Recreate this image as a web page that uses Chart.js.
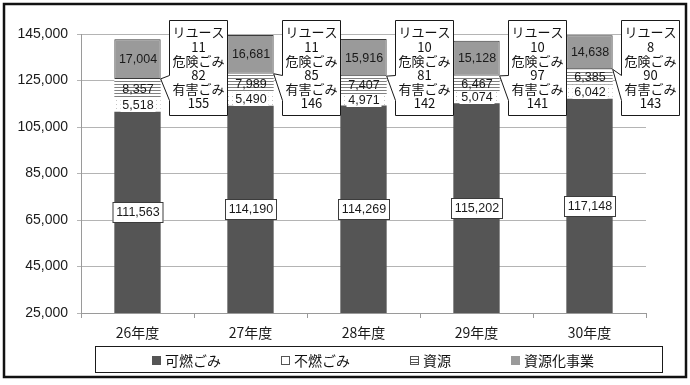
<!DOCTYPE html>
<html lang="ja">
<head>
<meta charset="utf-8">
<script src="https://cdn.jsdelivr.net/npm/chart.js@4.4.1/dist/chart.umd.min.js"></script>
<style>
  html, body { margin: 0; padding: 0; background: #fff; }
  #wrap { width: 690px; height: 385px; }
</style>
</head>
<body>
<div id="wrap"><canvas id="wasteChart" width="690" height="385"></canvas></div>
<script>
// 年度ごとのごみ量
const years = ['26年度', '27年度', '28年度', '29年度', '30年度'];
const kanen = [111563, 114190, 114269, 115202, 117148];   // 可燃ごみ
const funen = [5518, 5490, 4971, 5074, 6042];             // 不燃ごみ
const shigen = [8357, 7989, 7407, 6467, 6385];            // 資源
const reuse = [11, 11, 10, 10, 8];                        // リユース
const kiken = [82, 85, 81, 97, 90];                       // 危険ごみ
const yugai = [155, 146, 142, 141, 143];                  // 有害ごみ
const shigenka = [17004, 16681, 15916, 15128, 14638];     // 資源化事業
const yTicks = [25000, 45000, 65000, 85000, 105000, 125000, 145000];

const canvas = document.getElementById('wasteChart');
const ctx = canvas.getContext('2d');

function tile(w, h, draw) {
    const c = document.createElement('canvas');
    c.width = w; c.height = h;
    const g = c.getContext('2d');
    g.fillStyle = '#fff';
    g.fillRect(0, 0, w, h);
    draw(g);
    return ctx.createPattern(c, 'repeat');
}
// 資源: 横線ハッチ, 不燃ごみ: 点
const hatch = tile(4, 3, g => { g.fillStyle = '#808080'; g.fillRect(0, 0, 4, 1); });
const dots = tile(4, 4, g => { g.fillStyle = '#c4c4c4'; g.fillRect(0, 0, 1, 1); });

const fmt = v => v.toLocaleString('en-US');
const jpFont = '"Noto Sans CJK JP", "Noto Sans", sans-serif';

const legendItems = [
    { text: '可燃ごみ', mark: 'dark' },
    { text: '不燃ごみ', mark: 'white' },
    { text: '資源', mark: 'hatch' },
    { text: '資源化事業', mark: 'gray' }
];

const decorations = {
    id: 'decorations',
    beforeDraw(chart) {
        const c = chart.ctx;
        c.save();
        c.fillStyle = '#fff';
        c.fillRect(0, 0, chart.width, chart.height);
        c.restore();
    },
    afterDatasetsDraw(chart) {
        const c = chart.ctx;
        const area = chart.chartArea;
        c.save();
        c.font = '12.5px "Liberation Sans", Arial, sans-serif';
        c.textAlign = 'center';
        c.textBaseline = 'middle';
        chart.data.datasets.forEach((ds, di) => {
            if (!ds.tag) return;
            chart.getDatasetMeta(di).data.forEach((bar, i) => {
                const top = Math.max(bar.y, area.top);
                const bottom = Math.min(bar.base, area.bottom);
                const cy = Math.round((top + bottom) / 2);
                const txt = fmt(ds.data[i]);
                const w = Math.round(c.measureText(txt).width);
                const x = Math.round(bar.x);
                if (ds.tag === 'box') {
                    c.fillStyle = '#fff';
                    c.fillRect(x - w / 2 - 4, cy - 10, w + 8, 21);
                    c.strokeStyle = '#3c3c3c';
                    c.lineWidth = 1;
                    c.strokeRect(x - w / 2 - 3.5, cy - 9.5, w + 7, 20);
                } else if (ds.tag === 'white') {
                    c.fillStyle = '#fff';
                    c.fillRect(x - w / 2 - 2, cy - 6, w + 4, 13);
                }
                c.fillStyle = '#1a1a1a';
                c.fillText(txt, x, cy + 1);
            });
        });
        c.restore();
    },
    afterDraw(chart) {
        const c = chart.ctx;
        const area = chart.chartArea;
        c.save();

        // 吹き出し (リユース・危険ごみ・有害ごみ)
        const tipMeta = chart.getDatasetMeta(5);
        tipMeta.data.forEach((bar, i) => {
            const tipX = bar.x + bar.width / 2;
            const tipY = bar.y;
            const left = Math.round(tipX + 8) + 0.5;
            const top = 20.5, w = 58, h = 95;
            c.beginPath();
            c.moveTo(left, top);
            c.lineTo(left + w, top);
            c.lineTo(left + w, top + h);
            c.lineTo(left, top + h);
            c.lineTo(left, top + 80);
            c.lineTo(tipX, tipY);
            c.lineTo(left, top + 55);
            c.closePath();
            c.fillStyle = '#fff';
            c.fill();
            c.strokeStyle = '#1a1a1a';
            c.lineWidth = 1;
            c.stroke();
            const lines = ['リユース', String(reuse[i]), '危険ごみ', String(kiken[i]), '有害ごみ', String(yugai[i])];
            c.fillStyle = '#111';
            c.textAlign = 'center';
            c.textBaseline = 'middle';
            c.font = '13px ' + jpFont;
            lines.forEach((t, k) => c.fillText(t, left + w / 2, top + 12 + k * 14.2));
        });

        // 凡例
        const boxL = area.left + 14.5, boxR = area.right + 16.5;
        const boxT = area.bottom + 33.5, boxB = boxT + 26;
        c.strokeStyle = '#1a1a1a';
        c.lineWidth = 1;
        c.strokeRect(boxL, boxT, boxR - boxL, boxB - boxT);
        c.font = '14px ' + jpFont;
        const gap = 60, mk = 9;
        const widths = legendItems.map(it => mk + 4 + c.measureText(it.text).width);
        const total = widths.reduce((a, b) => a + b, 0) + gap * (legendItems.length - 1);
        let x = Math.round((boxL + boxR) / 2 - total / 2 - 6);
        const cy = Math.round((boxT + boxB) / 2);
        c.textAlign = 'left';
        c.textBaseline = 'middle';
        legendItems.forEach((it, k) => {
            const my = cy - 4;
            if (it.mark === 'dark') {
                c.fillStyle = '#555';
                c.fillRect(x, my, mk, mk);
            } else if (it.mark === 'gray') {
                c.fillStyle = '#9a9a9a';
                c.fillRect(x, my, mk, mk);
            } else {
                c.fillStyle = '#fff';
                c.fillRect(x, my, mk, mk);
                c.strokeStyle = '#555';
                c.strokeRect(x + 0.5, my + 0.5, mk - 1, mk - 1);
                if (it.mark === 'hatch') {
                    c.fillStyle = '#555';
                    c.fillRect(x, my + 3, mk, 1);
                    c.fillRect(x, my + 6, mk, 1);
                }
            }
            c.fillStyle = '#111';
            c.fillText(it.text, x + mk + 4, cy + 1);
            x += widths[k] + gap;
        });

        // 外枠
        c.strokeStyle = '#111';
        c.lineWidth = 2.5;
        c.strokeRect(4, 4, 682, 373);
        c.restore();
    }
};

const base = { stack: 'total', borderWidth: 0 };

new Chart(ctx, {
    type: 'bar',
    data: {
        labels: years,
        datasets: [
            { ...base, label: '可燃ごみ', data: kanen, backgroundColor: '#555555', tag: 'box' },
            { ...base, label: '不燃ごみ', data: funen, backgroundColor: dots, tag: 'white' },
            { ...base, label: '資源', data: shigen, backgroundColor: hatch, tag: 'plain' },
            { ...base, label: 'リユース', data: reuse, backgroundColor: '#ffffff' },
            { ...base, label: '危険ごみ', data: kiken, backgroundColor: '#ffffff' },
            { ...base, label: '有害ごみ', data: yugai, backgroundColor: '#ffffff' },
            { ...base, label: '資源化事業', data: shigenka, backgroundColor: '#9a9a9a',
              borderColor: '#3a3a3a', borderWidth: 1, borderSkipped: false, tag: 'plain' }
        ]
    },
    options: {
        responsive: false,
        animation: false,
        barPercentage: 0.41,
        categoryPercentage: 1,
        layout: { padding: { left: 0, right: 44, top: 34, bottom: 43 } },
        scales: {
            x: {
                stacked: true,
                grid: { offset: true, drawOnChartArea: false, tickLength: 5, color: '#9a9a9a' },
                border: { color: '#9a9a9a' },
                ticks: { color: '#1a1a1a', padding: 6, font: { family: jpFont, size: 14 } },
                afterFit: s => { s.height = 29; }
            },
            y: {
                stacked: true,
                min: yTicks[0],
                max: yTicks[yTicks.length - 1],
                afterBuildTicks: s => { s.ticks = yTicks.map(v => ({ value: v })); },
                grid: { color: '#b4b4b4', tickLength: 4 },
                border: { color: '#9a9a9a' },
                ticks: {
                    color: '#1a1a1a',
                    padding: 9,
                    font: { family: '"Liberation Sans", Arial, sans-serif', size: 14 },
                    callback: v => fmt(v)
                },
                afterFit: s => { s.width = 81; }
            }
        },
        plugins: {
            legend: { display: false },
            tooltip: { enabled: false }
        }
    },
    plugins: [decorations]
});
</script>
</body>
</html>
